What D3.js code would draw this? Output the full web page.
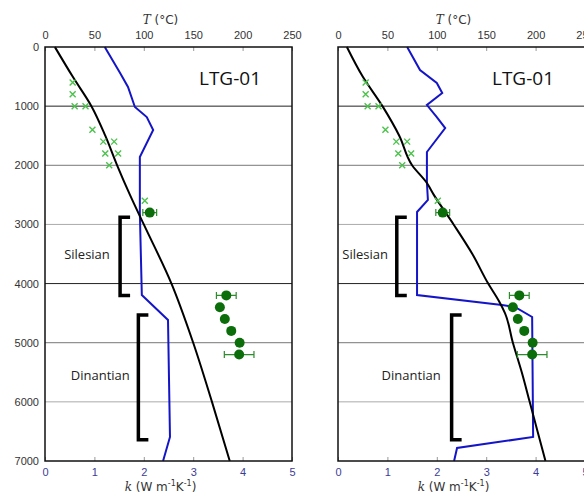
<!DOCTYPE html>
<html>
<head>
<meta charset="utf-8">
<script src="https://cdn.jsdelivr.net/npm/d3@7"></script>
<style>
  body { margin: 0; background: #fff; }
  svg { display: block; font-family: "DejaVu Sans", sans-serif; }
</style>
</head>
<body>
<svg id="chart" width="584" height="497"></svg>
<script>
// Axis ticks
const depthTicks = [0, 1000, 2000, 3000, 4000, 5000, 6000, 7000];
const tempTicks = [0, 50, 100, 150, 200, 250];
const kTicks = [0, 1, 2, 3, 4, 5];

// Modelled temperature (black line), left and right model
const tempDepthLeft = [0, 500, 1000, 1500, 2000, 2500, 3000, 4000, 5000, 6000, 7000];
const tempLeft = [10, 28, 47, 61, 73, 86, 100, 128, 150, 169, 187];
const tempDepthRight = [0, 500, 1000, 1500, 2000, 2300, 2500, 3000, 3500, 4000, 4300, 4500, 5000, 5500, 6000, 6500, 7000];
const tempRight = [9, 25, 45, 62, 75, 90, 97, 117, 136, 152, 163, 169, 177, 186, 194, 202, 210];

// Conductivity profile (blue line)
const kDepthLeft = [0, 440, 676, 1014, 1184, 1403, 1860, 2587, 2807, 4193, 4616, 6594, 7000];
const kLeft = [1.21, 1.52, 1.68, 1.82, 2.06, 2.19, 1.92, 1.92, 1.92, 1.96, 2.49, 2.53, 2.39];
const kDepthRight = [0, 389, 609, 778, 981, 1184, 1370, 1775, 2300, 2587, 2790, 4193, 4362, 4396, 4565, 6594, 6780, 7000];
const kRight = [1.40, 1.66, 2.00, 2.11, 1.80, 2.00, 2.17, 1.80, 1.80, 1.82, 1.60, 1.60, 3.32, 3.58, 3.93, 3.95, 2.41, 2.35];

// Measured temperatures (green crosses)
const obsTempDepth = [600, 800, 1000, 1000, 1400, 1600, 1600, 1800, 1800, 2000, 2600];
const obsTemp = [28, 28, 30, 41, 48, 59, 70, 61, 74, 65, 101];

// Measured conductivity with error (green dots)
const obsKDepth = [2800, 4200, 4400, 4600, 4800, 5000, 5200];
const obsK = [2.12, 3.67, 3.54, 3.64, 3.77, 3.94, 3.93];
const obsKErr = [0.14, 0.2, 0.05, 0.05, 0.05, 0.06, 0.3];

// Stratigraphic brackets
const units = ["Silesian", "Dinantian"];
const unitTop = [2880, 4530];
const unitBase = [4200, 6640];
const bracketKLeft = [1.52, 1.89];
const bracketKRight = [1.19, 2.30];
const labelKLeft = [0.85, 1.12];
const labelKRight = [0.55, 1.48];

const panels = [
    { x0: 45, depthT: tempDepthLeft, T: tempLeft, depthK: kDepthLeft, K: kLeft, bk: bracketKLeft, lk: labelKLeft, yLabels: true },
    { x0: 338, depthT: tempDepthRight, T: tempRight, depthK: kDepthRight, K: kRight, bk: bracketKRight, lk: labelKRight, yLabels: false }
];

const svg = d3.select("#chart");
const W = 247, plotTop = 47, plotBottom = 461;
const y = d3.scaleLinear().domain([0, 7000]).range([plotTop, plotBottom]);

panels.forEach(p => {
    const xT = d3.scaleLinear().domain([0, 250]).range([p.x0, p.x0 + W]);
    const xK = d3.scaleLinear().domain([0, 5]).range([p.x0, p.x0 + W]);
    const g = svg.append("g");

    // gridlines
    g.selectAll("line.grid")
        .data(depthTicks.slice(1, -1))
        .join("line")
        .attr("x1", p.x0).attr("x2", p.x0 + W)
        .attr("y1", d => y(d)).attr("y2", d => y(d))
        .attr("stroke", (d, i) => i % 3 === 0 ? "#222" : (i % 3 === 1 ? "#777" : "#aaa"))
        .attr("stroke-width", 1);

    // top axis (temperature)
    g.append("g")
        .attr("transform", `translate(0,${plotTop})`)
        .call(d3.axisTop(xT).tickValues(tempTicks).tickFormat(d3.format("d")).tickSize(-4).tickPadding(8))
        .call(a => a.select(".domain").remove())
        .call(a => a.selectAll("line").attr("stroke", "#999"))
        .call(a => a.selectAll("text").attr("fill", "#333").style("font-size", "11px"));

    // bottom axis (conductivity)
    g.append("g")
        .attr("transform", `translate(0,${plotBottom})`)
        .call(d3.axisBottom(xK).tickValues(kTicks).tickFormat(d3.format("d")).tickSize(-4).tickPadding(7))
        .call(a => a.select(".domain").remove())
        .call(a => a.selectAll("line").attr("stroke", "#999"))
        .call(a => a.selectAll("text").attr("fill", "#3c3c96").style("font-size", "11px"));

    if (p.yLabels) {
        g.append("g")
            .attr("transform", `translate(${p.x0},0)`)
            .call(d3.axisLeft(y).tickValues(depthTicks).tickFormat(d3.format("d")).tickSize(0).tickPadding(6))
            .call(a => a.select(".domain").remove())
            .call(a => a.selectAll("text").attr("fill", "#333").style("font-size", "11px"));
    }

    // axis titles
    const cx = p.x0 + W / 2 - 8;
    const tt = g.append("text").attr("x", cx).attr("y", 24)
        .attr("text-anchor", "middle").attr("fill", "#333").style("font-size", "12px");
    tt.append("tspan").text("T").style("font-family", "DejaVu Serif").style("font-style", "italic");
    tt.append("tspan").text(" (\u00b0C)");

    const kt = g.append("text").attr("x", cx).attr("y", 491)
        .attr("text-anchor", "middle").attr("fill", "#333").style("font-size", "12px");
    kt.append("tspan").text("k").style("font-family", "DejaVu Serif").style("font-style", "italic");
    kt.append("tspan").text(" (W m");
    kt.append("tspan").text("-1").attr("dy", -5).style("font-size", "8px");
    kt.append("tspan").text("K").attr("dy", 5);
    kt.append("tspan").text("-1").attr("dy", -5).style("font-size", "8px");
    kt.append("tspan").text(")").attr("dy", 5);

    // brackets
    units.forEach((u, i) => {
        const bx = xK(p.bk[i]);
        g.append("path")
            .attr("d", `M${bx + 10},${y(unitTop[i])}H${bx}V${y(unitBase[i])}H${bx + 10}`)
            .attr("fill", "none").attr("stroke", "#000").attr("stroke-width", 3.5);
        g.append("text")
            .attr("x", xK(p.lk[i])).attr("y", y((unitTop[i] + unitBase[i]) / 2) + 3)
            .attr("text-anchor", "middle").attr("fill", "#222")
            .style("font-family", "Open Sans").style("font-size", "13px")
            .text(u);
    });

    // conductivity profile
    g.append("path")
        .datum(p.K.map((k, i) => [k, p.depthK[i]]))
        .attr("fill", "none").attr("stroke", "#1515c8").attr("stroke-width", 2)
        .attr("d", d3.line().x(d => xK(d[0])).y(d => y(d[1])));

    // temperature model
    g.append("path")
        .datum(p.T.map((t, i) => [t, p.depthT[i]]))
        .attr("fill", "none").attr("stroke", "#000").attr("stroke-width", 2)
        .attr("d", d3.line().curve(d3.curveMonotoneY).x(d => xT(d[0])).y(d => y(d[1])));

    // measured temperatures
    const cs = 3;
    g.selectAll("path.cross")
        .data(obsTemp.map((t, i) => [t, obsTempDepth[i]]))
        .join("path")
        .attr("d", d => {
            const px = xT(d[0]), py = y(d[1]);
            return `M${px - cs},${py - cs}L${px + cs},${py + cs}M${px - cs},${py + cs}L${px + cs},${py - cs}`;
        })
        .attr("stroke", "#4cc24c").attr("stroke-width", 1.4).attr("fill", "none");

    // measured conductivity with error bars
    const obs = obsK.map((k, i) => ({ k, d: obsKDepth[i], e: obsKErr[i] }));
    g.selectAll("path.err")
        .data(obs)
        .join("path")
        .attr("d", d => {
            const x1 = xK(d.k - d.e), x2 = xK(d.k + d.e), py = y(d.d);
            return `M${x1},${py}H${x2}M${x1},${py - 3.5}V${py + 3.5}M${x2},${py - 3.5}V${py + 3.5}`;
        })
        .attr("stroke", "#2e8b2e").attr("stroke-width", 1.2).attr("fill", "none");
    g.selectAll("circle.obs")
        .data(obs)
        .join("circle")
        .attr("cx", d => xK(d.k)).attr("cy", d => y(d.d)).attr("r", 5)
        .attr("fill", "#0b6e0b");

    // frame
    g.append("rect")
        .attr("x", p.x0).attr("y", plotTop).attr("width", W).attr("height", plotBottom - plotTop)
        .attr("fill", "none").attr("stroke", "#111").attr("stroke-width", 1.5);

    g.append("text")
        .attr("x", p.x0 + 185).attr("y", 85)
        .attr("text-anchor", "middle").attr("fill", "#111")
        .style("font-family", "Open Sans").style("font-size", "19px")
        .text("LTG-01");
});
</script>
</body>
</html>
